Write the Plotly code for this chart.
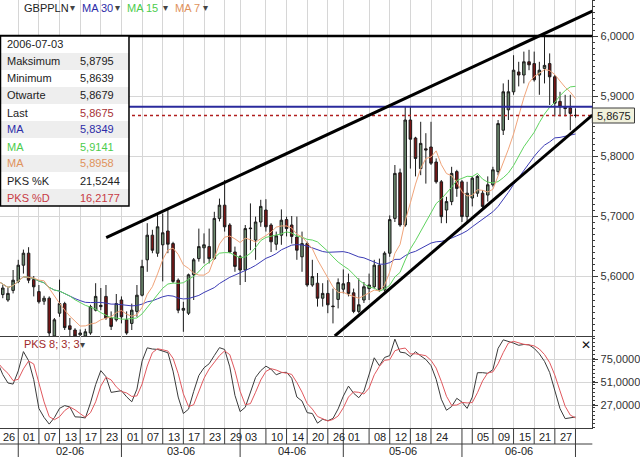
import numpy as np
import pandas as pd
import plotly.graph_objects as go

# ---------------- data ----------------
dates = pd.bdate_range("2006-01-26", "2006-07-03")

opens = [5.582, 5.569, 5.560, 5.576, 5.591, 5.618, 5.638, 5.594, 5.574, 5.558,
         5.563, 5.500, 5.538, 5.554, 5.517, 5.510, 5.502, 5.500, 5.505, 5.543,
         5.549, 5.566, 5.530, 5.527, 5.560, 5.527, 5.521, 5.541, 5.568, 5.627,
         5.668, 5.638, 5.652, 5.675, 5.654, 5.593, 5.543, 5.538, 5.602, 5.629,
         5.647, 5.649, 5.629, 5.696, 5.718, 5.685, 5.640, 5.632, 5.610, 5.680,
         5.660, 5.690, 5.710, 5.685, 5.653, 5.668, 5.694, 5.685, 5.665, 5.632,
         5.654, 5.585, 5.588, 5.563, 5.571, 5.550, 5.561, 5.578, 5.589, 5.572,
         5.541, 5.560, 5.579, 5.582, 5.618, 5.577, 5.638, 5.696, 5.772, 5.685,
         5.860, 5.830, 5.779, 5.812, 5.815, 5.790, 5.757, 5.710, 5.724, 5.774,
         5.757, 5.699, 5.730, 5.738, 5.738, 5.735, 5.752, 5.774, 5.843, 5.877,
         5.907, 5.940, 5.935, 5.957, 5.954, 5.935, 5.946, 5.954, 5.932, 5.891,
         5.881, 5.880, 5.8679]
highs = [5.600, 5.585, 5.580, 5.610, 5.627, 5.644, 5.648, 5.600, 5.585, 5.567,
         5.566, 5.530, 5.594, 5.557, 5.530, 5.513, 5.511, 5.512, 5.552, 5.588,
         5.580, 5.585, 5.541, 5.570, 5.566, 5.541, 5.554, 5.585, 5.627, 5.688,
         5.677, 5.702, 5.704, 5.713, 5.657, 5.596, 5.557, 5.604, 5.630, 5.679,
         5.671, 5.679, 5.707, 5.729, 5.760, 5.688, 5.649, 5.635, 5.685, 5.721,
         5.699, 5.727, 5.728, 5.688, 5.674, 5.711, 5.699, 5.700, 5.699, 5.674,
         5.657, 5.627, 5.605, 5.588, 5.593, 5.579, 5.596, 5.611, 5.604, 5.579,
         5.596, 5.590, 5.604, 5.627, 5.629, 5.641, 5.701, 5.785, 5.779, 5.882,
         5.882, 5.832, 5.857, 5.838, 5.857, 5.796, 5.760, 5.732, 5.782, 5.777,
         5.760, 5.757, 5.766, 5.768, 5.743, 5.766, 5.782, 5.860, 5.921, 5.927,
         5.968, 5.957, 5.974, 5.977, 5.974, 5.957, 5.999, 5.971, 5.935, 5.907,
         5.902, 5.902, 5.8795]
lows = [5.572, 5.563, 5.557, 5.571, 5.588, 5.604, 5.588, 5.566, 5.554, 5.552,
        5.495, 5.490, 5.532, 5.510, 5.499, 5.495, 5.495, 5.495, 5.502, 5.541,
        5.543, 5.527, 5.510, 5.524, 5.521, 5.502, 5.510, 5.532, 5.566, 5.607,
        5.638, 5.632, 5.591, 5.638, 5.588, 5.538, 5.507, 5.535, 5.560, 5.624,
        5.621, 5.621, 5.627, 5.691, 5.674, 5.638, 5.607, 5.585, 5.590, 5.643,
        5.627, 5.682, 5.674, 5.640, 5.643, 5.652, 5.666, 5.654, 5.627, 5.607,
        5.582, 5.582, 5.549, 5.549, 5.538, 5.521, 5.546, 5.571, 5.566, 5.538,
        5.538, 5.555, 5.560, 5.579, 5.574, 5.574, 5.632, 5.690, 5.682, 5.682,
        5.779, 5.766, 5.768, 5.754, 5.785, 5.754, 5.688, 5.688, 5.718, 5.732,
        5.690, 5.690, 5.716, 5.732, 5.713, 5.724, 5.749, 5.768, 5.835, 5.860,
        5.902, 5.916, 5.921, 5.943, 5.924, 5.902, 5.921, 5.885, 5.866, 5.866,
        5.866, 5.843, 5.8639]
closes = [5.592, 5.580, 5.571, 5.593, 5.618, 5.638, 5.593, 5.582, 5.557, 5.563,
          5.505, 5.527, 5.554, 5.514, 5.511, 5.500, 5.505, 5.507, 5.549, 5.566,
          5.551, 5.530, 5.516, 5.554, 5.532, 5.505, 5.543, 5.568, 5.616, 5.668,
          5.643, 5.682, 5.672, 5.653, 5.591, 5.543, 5.546, 5.602, 5.627, 5.649,
          5.652, 5.629, 5.696, 5.718, 5.682, 5.640, 5.616, 5.610, 5.679, 5.679,
          5.690, 5.716, 5.682, 5.657, 5.667, 5.693, 5.679, 5.666, 5.643, 5.654,
          5.585, 5.599, 5.563, 5.571, 5.552, 5.549, 5.589, 5.587, 5.571, 5.541,
          5.552, 5.582, 5.585, 5.618, 5.577, 5.638, 5.694, 5.771, 5.685, 5.860,
          5.828, 5.796, 5.821, 5.810, 5.788, 5.757, 5.699, 5.724, 5.771, 5.746,
          5.699, 5.738, 5.763, 5.766, 5.716, 5.752, 5.777, 5.854, 5.907, 5.907,
          5.943, 5.935, 5.957, 5.952, 5.927, 5.943, 5.951, 5.932, 5.888, 5.882,
          5.879, 5.871, 5.8675]

day_label_dates = ["2006-01-26", "2006-02-01", "2006-02-07", "2006-02-13", "2006-02-17",
                   "2006-02-23", "2006-03-01", "2006-03-07", "2006-03-13", "2006-03-17",
                   "2006-03-23", "2006-03-29", "2006-04-03", "2006-04-10", "2006-04-14",
                   "2006-04-20", "2006-04-26", "2006-05-01", "2006-05-08", "2006-05-12",
                   "2006-05-18", "2006-05-24", "2006-06-05", "2006-06-09", "2006-06-15",
                   "2006-06-21", "2006-06-27"]
unlabeled_grid_dates = ["2006-06-01", "2006-07-03"]
month_start_dates = ["2006-02-01", "2006-03-01", "2006-04-03", "2006-05-01", "2006-06-01", "2006-07-03"]
month_labels = ["02-06", "03-06", "04-06", "05-06", "06-06"]

price_ticks = [5.6, 5.7, 5.8, 5.9, 6.0]
stoch_ticks = [27, 51, 75]

# drawn trend lines (trading-day index, price)
upper_trend = [(21.04, 5.664), (115.27, 6.0413)]
lower_trend = [(65.35, 5.500), (115.27, 5.8683)]
level_black = 6.0
level_blue = 5.882

info_ma30, info_ma15, info_ma7 = "5,8349", "5,9141", "5,8958"
info_k, info_d = "21,5244", "16,2177"

# ---------------- derived series ----------------
x = np.arange(len(dates))
cs = pd.Series(closes)
ma30 = cs.rolling(30, min_periods=1).mean()
ma15 = cs.rolling(15, min_periods=1).mean()
ma7 = cs.rolling(7, min_periods=1).mean()
hh = pd.Series(highs).rolling(8, min_periods=1).max()
ll = pd.Series(lows).rolling(8, min_periods=1).min()
raw_k = 100 * (cs - ll) / (hh - ll)
pk = raw_k.rolling(3, min_periods=1).mean()
pd_ = pk.rolling(3, min_periods=1).mean()

pos = {d: i for i, d in enumerate(dates.strftime("%Y-%m-%d"))}
day_pos = [pos[d] for d in day_label_dates]
grid_pos = sorted(day_pos + [pos[d] for d in unlabeled_grid_dates])
month_pos = [pos[d] for d in month_start_dates]

# ---------------- figure ----------------
W, H = 640, 457
FONT = "Liberation Sans, Arial, sans-serif"


def px(v):
    return v / W


def py(v):
    return 1 - v / H


def fmt(v):
    return f"{v:.4f}".replace(".", ",")


fig = go.Figure()
fig.add_trace(go.Candlestick(
    x=x, open=opens, high=highs, low=lows, close=closes,
    increasing=dict(line=dict(color="#1c1c1c", width=1), fillcolor="#6e8c70"),
    decreasing=dict(line=dict(color="#1c1c1c", width=1), fillcolor="#7a1515"),
    whiskerwidth=0, showlegend=False, hoverinfo="skip", xaxis="x", yaxis="y"))
fig.add_trace(go.Scatter(x=x, y=ma30, mode="lines", line=dict(color="#3b3bb5", width=1),
                         showlegend=False, xaxis="x", yaxis="y"))
fig.add_trace(go.Scatter(x=x, y=ma15, mode="lines", line=dict(color="#5fd35f", width=1),
                         showlegend=False, xaxis="x", yaxis="y"))
fig.add_trace(go.Scatter(x=x, y=ma7, mode="lines", line=dict(color="#f0a47a", width=1),
                         showlegend=False, xaxis="x", yaxis="y"))
fig.add_trace(go.Scatter(x=x, y=pk, mode="lines", line=dict(color="#3a3a3a", width=1),
                         showlegend=False, xaxis="x2", yaxis="y2"))
fig.add_trace(go.Scatter(x=x, y=pd_, mode="lines", line=dict(color="#e0585e", width=1),
                         showlegend=False, xaxis="x2", yaxis="y2"))

xr = [0.46, 115.27]
xcommon = dict(range=xr, tickvals=grid_pos, showticklabels=False, showgrid=True,
               gridcolor="#d6d6d6", gridwidth=1, zeroline=False, showline=True,
               linecolor="#3c3c3c", linewidth=1, ticks="", domain=[0, px(597)],
               fixedrange=True)
ycommon = dict(side="right", tickformat=".4f", ticks="outside", ticklen=5, tickcolor="#3c3c3c",
               showline=True, linecolor="#3c3c3c", linewidth=1, showgrid=True,
               gridcolor="#d6d6d6", gridwidth=1, zeroline=False,
               tickfont=dict(family=FONT, size=11, color="#333333"),
               minor=dict(ticks="outside", ticklen=2, tickcolor="#3c3c3c", showgrid=False))

fig.update_layout(
    width=W, height=H, autosize=False, margin=dict(l=0, r=0, t=0, b=0),
    paper_bgcolor="white", plot_bgcolor="white", separators=",.",
    font=dict(family=FONT, size=11, color="#222"),
    showlegend=False,
    xaxis=dict(**xcommon, anchor="y", rangeslider=dict(visible=False)),
    xaxis2=dict(**xcommon, anchor="y2", matches="x"),
    yaxis=dict(**ycommon, domain=[py(336), 1], range=[5.5, 6.06], tickvals=price_ticks,
               anchor="x"),
    yaxis2=dict(**ycommon, domain=[py(428), py(336)], range=[3, 99], tickvals=stoch_ticks,
                anchor="x2"),
)
fig.update_layout(yaxis_minor_dtick=0.01, yaxis2_minor_dtick=4)

shapes = []
# horizontal levels
shapes.append(dict(type="line", xref="x domain", yref="y", x0=0, x1=1, y0=level_black, y1=level_black,
                   line=dict(color="black", width=2.5)))
shapes.append(dict(type="line", xref="x domain", yref="y", x0=0, x1=1, y0=level_blue, y1=level_blue,
                   line=dict(color="#2a2a9c", width=2)))
shapes.append(dict(type="line", xref="x domain", yref="y", x0=0, x1=1, y0=closes[-1], y1=closes[-1],
                   line=dict(color="#b01e1e", width=1.5, dash="dot")))
# trend lines
for (a, b) in (upper_trend, lower_trend):
    shapes.append(dict(type="line", xref="x", yref="y", x0=a[0], y0=a[1], x1=b[0], y1=b[1],
                       line=dict(color="black", width=3)))

# bottom axis boxes
shapes.append(dict(type="line", xref="paper", yref="paper", x0=0, x1=px(597), y0=py(444), y1=py(444),
                   line=dict(color="#3c3c3c", width=1)))
for p in grid_pos:
    shapes.append(dict(type="line", xref="x2", yref="paper", x0=p, x1=p, y0=py(428), y1=py(444),
                       line=dict(color="#3c3c3c", width=1)))
for p in month_pos:
    shapes.append(dict(type="line", xref="x2", yref="paper", x0=p, x1=p, y0=py(444), y1=py(457),
                       line=dict(color="#3c3c3c", width=1)))

# info box
box_top, row_h, n_rows, box_r = 36, 17, 10, 130
shapes.append(dict(type="rect", xref="paper", yref="paper", x0=0, x1=px(box_r),
                   y0=py(box_top + row_h * n_rows), y1=py(box_top), fillcolor="white",
                   line=dict(width=0)))
for k in range(1, n_rows, 2):
    shapes.append(dict(type="rect", xref="paper", yref="paper", x0=0, x1=px(box_r),
                       y0=py(box_top + row_h * (k + 1)), y1=py(box_top + row_h * k),
                       fillcolor="#eeeeee", line=dict(width=0)))
shapes.append(dict(type="rect", xref="paper", yref="paper", x0=px(0.5), x1=px(box_r),
                   y0=py(box_top + row_h * n_rows), y1=py(box_top), fillcolor="rgba(0,0,0,0)",
                   line=dict(color="black", width=1.5)))
# price tag
shapes.append(dict(type="rect", xref="paper", yref="y", x0=px(597), x1=px(639.5),
                   y0=closes[-1] - 0.0125, y1=closes[-1] + 0.0125, fillcolor="#f1f1dc",
                   line=dict(color="#3c3c3c", width=1)))

ann = []


def text(xp, yp, t, color="#222", size=11, anchor="left"):
    ann.append(dict(x=px(xp), y=py(yp), xref="paper", yref="paper", text=t, showarrow=False,
                    xanchor=anchor, yanchor="middle", font=dict(family=FONT, size=size, color=color)))


# info rows
rows = [
    (dates[-1].strftime("%Y-%m-%d"), "", "#222", "#222"),
    ("Maksimum", fmt(highs[-1]), "#222", "#222"),
    ("Minimum", fmt(lows[-1]), "#222", "#222"),
    ("Otwarte", fmt(opens[-1]), "#222", "#222"),
    ("Last", fmt(closes[-1]), "#222", "#a83236"),
    ("MA", info_ma30, "#2c2ca8", "#2c2ca8"),
    ("MA", info_ma15, "#4ccc4c", "#4ccc4c"),
    ("MA", info_ma7, "#e0925c", "#e0925c"),
    ("PKS %K", info_k, "#222", "#222"),
    ("PKS %D", info_d, "#c83a44", "#c83a44"),
]
for k, (lab, val, c1, c2) in enumerate(rows):
    yc = box_top + row_h * k + row_h / 2
    text(5, yc, lab, c1)
    if val:
        text(79, yc, val, c2)

# top legend
text(22, 8, "GBPPLN", "#222")
text(69, 8, "▾", "#444", 10)
text(81, 8, "MA 30", "#2c2ca8")
text(114, 8, "▾", "#444", 10)
text(126, 8, "MA 15", "#4ccc4c")
text(162, 8, "▾", "#444", 10)
text(174, 8, "MA 7", "#e0925c")
text(203, 8, "▾", "#444", 10)

# indicator label and close cross
text(22, 344, "PKS 8; 3; 3", "#a02a2a")
text(79, 344, "▾", "#444", 10)
text(584, 345, "✕", "#111", 12)

# price tag text
text(618.5, 36 + (6 - closes[-1]) * 600, fmt(closes[-1]), "#222", 11, "center")

# day labels
for d, p in zip(day_label_dates, day_pos):
    ann.append(dict(x=p + 0.6, y=py(436.5), xref="x2", yref="paper", text=d[-2:], showarrow=False,
                    xanchor="left", yanchor="middle", font=dict(family=FONT, size=11, color="#222")))
# month labels
for lab, a, b in zip(month_labels, month_pos[:-1], month_pos[1:]):
    ann.append(dict(x=(a + b) / 2, y=py(450.5), xref="x2", yref="paper", text=lab, showarrow=False,
                    xanchor="center", yanchor="middle", font=dict(family=FONT, size=11, color="#222")))

fig.update_layout(shapes=shapes, annotations=ann)
fig.write_html("out.html")
